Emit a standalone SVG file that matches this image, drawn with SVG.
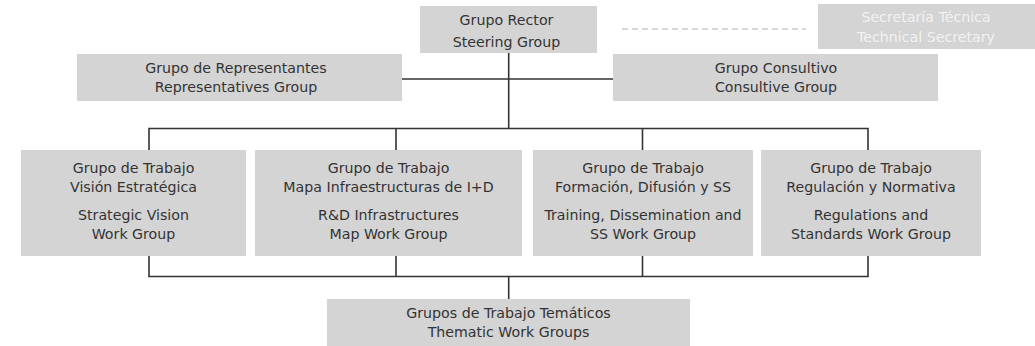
<svg xmlns="http://www.w3.org/2000/svg" width="1035" height="346" viewBox="0 0 1035 346">
<style>
.box{fill:#d4d4d4}
.t{font-family:"DejaVu Sans",Verdana,sans-serif;font-size:14.2px;fill:#333;text-anchor:middle}
.tw{font-family:"DejaVu Sans",Verdana,sans-serif;font-size:14.2px;fill:#f2f2f2;text-anchor:middle}
.ln{stroke:#333;stroke-width:1.6;fill:none}
.dash{stroke:#b0b0b0;stroke-width:1.2;stroke-dasharray:6,4;fill:none}
</style>
<rect width="1035" height="346" fill="#fff"/>
<g id="connectors">
<path class="ln" d="M508.7,53 V128.5 M402,79 H613 M149,150 V128.5 H868 V150 M396,128.5 V150 M642.5,128.5 V150 M149,256 V276.5 H868 V256 M396,256 V276.5 M642.5,256 V276.5 M508.7,276.5 V299"/>
<path class="dash" d="M622,29 H806"/>
</g>
<g id="steering">
<rect class="box" x="420" y="6" width="177" height="47"/>
<text class="t" x="506.5" y="25">Grupo Rector</text>
<text class="t" x="506.5" y="46.5">Steering Group</text>
</g>
<g id="secretaria">
<rect class="box" x="818" y="4" width="217" height="45"/>
<text class="tw" x="926" y="22">Secretaría Técnica</text>
<text class="tw" x="926" y="42">Technical Secretary</text>
</g>
<g id="representantes">
<rect class="box" x="77" y="54" width="325" height="47"/>
<text class="t" x="236" y="73">Grupo de Representantes</text>
<text class="t" x="236" y="92">Representatives Group</text>
</g>
<g id="consultivo">
<rect class="box" x="613" y="54" width="325" height="47"/>
<text class="t" x="776" y="73">Grupo Consultivo</text>
<text class="t" x="776" y="92">Consultive Group</text>
</g>
<g id="wg1">
<rect class="box" x="21" y="150" width="225" height="106"/>
<text class="t" x="133.5" y="173">Grupo de Trabajo</text>
<text class="t" x="133.5" y="192">Visión Estratégica</text>
<text class="t" x="133.5" y="220">Strategic Vision</text>
<text class="t" x="133.5" y="239">Work Group</text>
</g>
<g id="wg2">
<rect class="box" x="255" y="150" width="267" height="106"/>
<text class="t" x="388.5" y="173">Grupo de Trabajo</text>
<text class="t" x="388.5" y="192">Mapa Infraestructuras de I+D</text>
<text class="t" x="388.5" y="220">R&amp;D Infrastructures</text>
<text class="t" x="388.5" y="239">Map Work Group</text>
</g>
<g id="wg3">
<rect class="box" x="533" y="150" width="220" height="106"/>
<text class="t" x="643" y="173">Grupo de Trabajo</text>
<text class="t" x="643" y="192">Formación, Difusión y SS</text>
<text class="t" x="643" y="220">Training, Dissemination and</text>
<text class="t" x="643" y="239">SS Work Group</text>
</g>
<g id="wg4">
<rect class="box" x="761" y="150" width="220" height="106"/>
<text class="t" x="871" y="173">Grupo de Trabajo</text>
<text class="t" x="871" y="192">Regulación y Normativa</text>
<text class="t" x="871" y="220">Regulations and</text>
<text class="t" x="871" y="239">Standards Work Group</text>
</g>
<g id="tematicos">
<rect class="box" x="327" y="299" width="363" height="47"/>
<text class="t" x="508.5" y="318">Grupos de Trabajo Temáticos</text>
<text class="t" x="508.5" y="337">Thematic Work Groups</text>
</g>
</svg>
